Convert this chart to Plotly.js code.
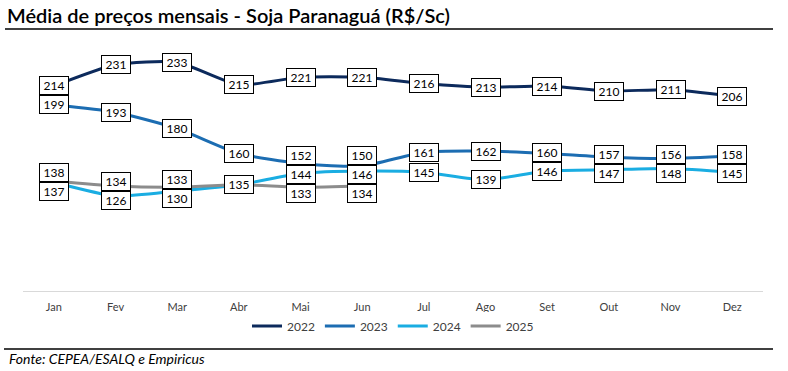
<!DOCTYPE html>
<html>
<head>
<meta charset="utf-8">
<script src="https://cdn.plot.ly/plotly-3.0.1.min.js"></script>
<style>
html,body{margin:0;padding:0;background:#fff;}
#chart{width:788px;height:371px;}
</style>
</head>
<body>
<div id="chart"></div>
<script>
const months = ['Jan','Fev','Mar','Abr','Mai','Jun','Jul','Ago','Set','Out','Nov','Dez'];
const seriesNames = ['2022','2023','2024','2025'];
const v2022 = [214,231,233,215,221,221,216,213,214,210,211,206];
const v2023 = [199,193,180,160,152,150,161,162,160,157,156,158];
const v2024 = [137,126,130,135,144,146,145,139,146,147,148,145];
const v2025 = [138,134,133,135,133,134];

const allValues = [v2022, v2023, v2024, v2025];
const colors = ['#0c2a5c','#1c6db2','#1aade2','#8c8c8c'];

const yRange = [50, 250];
const plotTop = 41, plotBottom = 291, plotLeft = 23, plotRight = 763;
const pxPerUnit = (plotBottom - plotTop) / (yRange[1] - yRange[0]);
const minGapUnits = 19 / pxPerUnit;

const traces = allValues.map((vals, i) => ({
  type: 'scatter', mode: 'lines',
  name: seriesNames[i],
  x: months.slice(0, vals.length),
  y: vals,
  line: {color: colors[i], width: 3, shape: 'spline', smoothing: 0.6},
  hoverinfo: 'skip'
}));

// data labels with simple overlap avoidance
const annotations = [];
months.forEach((m, mi) => {
  let labels = [];
  allValues.forEach((vals, si) => {
    if (mi < vals.length) {
      const v = vals[mi];
      if (!labels.some(l => l.v === v && si >= 2 && l.si >= 2)) {
        labels.push({v: v, pos: v, si: si});
      }
    }
  });
  for (let it = 0; it < 60; it++) {
    labels.sort((a, b) => b.pos - a.pos);
    for (let k = 0; k < labels.length - 1; k++) {
      const gap = labels[k].pos - labels[k+1].pos;
      if (gap < minGapUnits) {
        const d = (minGapUnits - gap) / 2;
        labels[k].pos += d;
        labels[k+1].pos -= d;
      }
    }
  }
  labels.forEach(l => {
    annotations.push({
      x: m, y: l.pos, xref: 'x', yref: 'y',
      text: String(l.v), showarrow: false,
      xanchor: 'center', yanchor: 'middle',
      font: {family: 'Lato, Carlito, sans-serif', size: 12, color: '#000'},
      bgcolor: '#ffffff', bordercolor: '#000000', borderwidth: 1,
      borderpad: 1, width: 26, height: 15
    });
  });
});

const W = plotRight - plotLeft, H = plotBottom - plotTop;
const px2x = p => (p - plotLeft) / W;
const px2y = p => (plotBottom - p) / H;

annotations.push({
  xref: 'paper', yref: 'paper', x: px2x(7), y: px2y(358),
  xanchor: 'left', yanchor: 'middle', showarrow: false,
  text: 'Fonte: CEPEA/ESALQ e Empiricus',
  font: {family: 'Lato, Carlito, sans-serif', size: 14, color: '#000', style: 'italic', weight: 400}
});

const layout = {
  width: 788, height: 371,
  margin: {l: plotLeft, r: 788 - plotRight, t: plotTop, b: 371 - plotBottom},
  paper_bgcolor: '#ffffff', plot_bgcolor: '#ffffff',
  title: {
    text: 'Média de preços mensais - Soja Paranaguá (R$/Sc)',
    xref: 'container', yref: 'container',
    x: 7/788, xanchor: 'left', y: 1 - 16/371, yanchor: 'middle',
    font: {family: 'Lato, Carlito, sans-serif', size: 20, color: '#000', weight: 600}
  },
  xaxis: {
    type: 'category', range: [-0.5, 11.5],
    showline: true, linecolor: '#d9d9d9', linewidth: 1,
    showgrid: false, zeroline: false, ticks: '',
    ticklabelstandoff: 6,
    tickfont: {family: 'Lato, Carlito, sans-serif', size: 11, color: '#404040'},
    fixedrange: true
  },
  yaxis: {
    range: yRange, showgrid: false, zeroline: false, showline: false,
    showticklabels: false, ticks: '', fixedrange: true
  },
  showlegend: true,
  legend: {
    orientation: 'h', x: 0.5, xanchor: 'center', y: px2y(326), yanchor: 'middle',
    font: {family: 'Lato, Carlito, sans-serif', size: 12, color: '#404040'},
    itemwidth: 30, tracegroupgap: 0
  },
  shapes: [
    {type: 'line', xref: 'paper', yref: 'paper', x0: px2x(5), x1: px2x(773), y0: px2y(29), y1: px2y(29), line: {color: '#000', width: 1.5}},
    {type: 'line', xref: 'paper', yref: 'paper', x0: px2x(4), x1: px2x(773), y0: px2y(349), y1: px2y(349), line: {color: '#000', width: 1.5}}
  ],
  annotations: annotations
};

Plotly.newPlot('chart', traces, layout, {displayModeBar: false, staticPlot: true});
</script>
</body>
</html>
